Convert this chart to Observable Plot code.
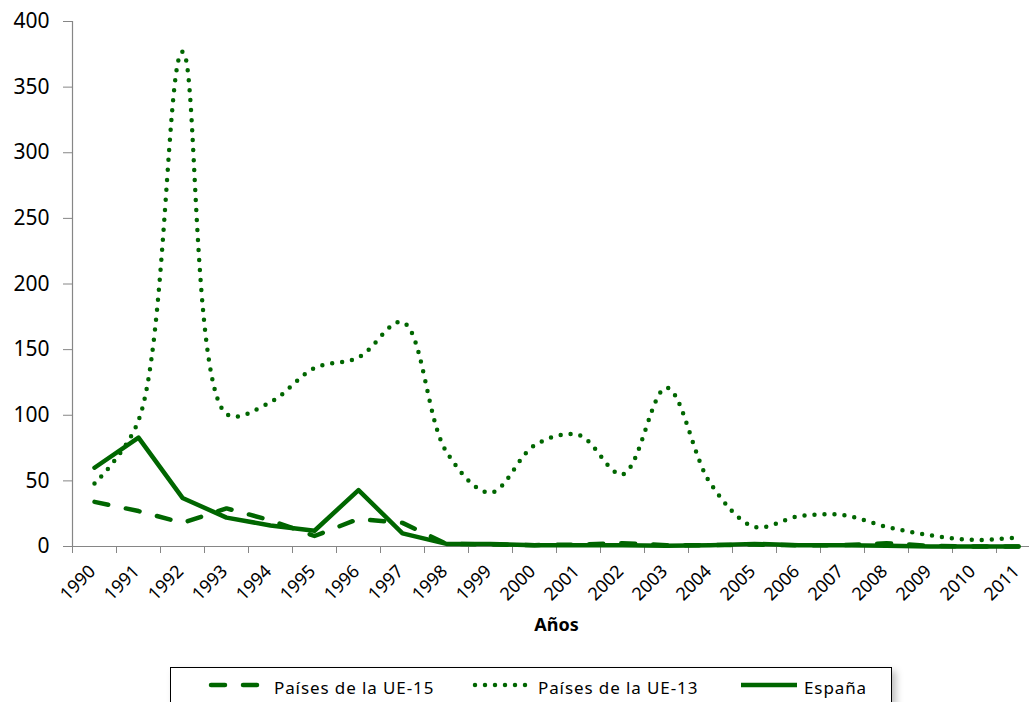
<!DOCTYPE html>
<html>
<head>
<meta charset="utf-8">
<script src="https://cdn.jsdelivr.net/npm/d3@7"></script>
<script src="https://cdn.jsdelivr.net/npm/@observablehq/plot@0.6"></script>
<style>
  html, body { margin: 0; padding: 0; background: #fff; overflow: hidden; }
  #wrap { position: relative; width: 1029px; height: 702px; font-family: "Noto Sans", sans-serif; }
  #legend { position: absolute; left: 170px; top: 667px; width: 720px; height: 50px;
            border: 1px solid #000; background: #fff; box-shadow: 4px 4px 7px rgba(0,0,0,0.25); }
  .li { position: absolute; top: 0; height: 40px; }
  .li svg { position: absolute; top: 0; }
  .li span { position: absolute; top: 8px; font-size: 17px; letter-spacing: 0.9px; color: #000; white-space: nowrap; }
</style>
</head>
<body>
<div id="wrap"></div>
<script>
const years = [1990,1991,1992,1993,1994,1995,1996,1997,1998,1999,2000,2001,2002,2003,2004,2005,2006,2007,2008,2009,2010,2011];
const ue15 = [34, 27, 18, 29, 20, 8, 21, 18, 2, 1.5, 1, 1.5, 2.5, 1, 1, 1.5, 1, 1, 2.5, 0.5, 0, 0];
const ue13 = [48, 96, 377, 101, 110, 136, 144, 171, 72, 41, 77, 85, 55, 121, 48, 15, 23, 24, 15, 8.5, 5, 7];
const espana = [60, 83, 37, 22, 16, 12, 43, 10, 2, 2, 1, 1, 1, 0.5, 1, 2, 1, 1, 0.5, 0, 0, 0];
const yTicks = [0, 50, 100, 150, 200, 250, 300, 350, 400];
const seriesNames = ["Países de la UE-15", "Países de la UE-13", "España"];
const xTitle = "Años";

const green = "#006600";
const rows = (vals) => years.map((yr, i) => ({year: yr, value: vals[i]}));
const boundaries = years.map(y => y - 0.5).concat([years[years.length - 1] + 0.5]);

const chart = Plot.plot({
  width: 1029,
  height: 660,
  marginTop: 21,
  marginBottom: 114,
  marginLeft: 72,
  marginRight: 0,
  x: {type: "linear", domain: [years[0] - 0.5, years[years.length - 1] + 0.5], range: [72, 1040]},
  y: {domain: [0, 400], range: [546, 21]},
  style: {fontFamily: "Noto Sans", background: "white", color: "#000"},
  marks: [
    Plot.axisY(yTicks, {tickSize: 9, tickPadding: 14, fontSize: 21, stroke: "#868686", fill: "#000", tickFormat: d => String(d), label: null}),
    Plot.axisX(boundaries, {tickSize: 7, stroke: "#868686", fill: "none", label: null}),
    Plot.ruleX([years[0] - 0.5], {stroke: "#868686", strokeWidth: 1.2}),
    Plot.ruleY([0], {stroke: "#868686", strokeWidth: 1.2}),
    Plot.text(years, {x: d => d, text: d => String(d), frameAnchor: "bottom", rotate: -45, textAnchor: "end", dx: 2, dy: 26, fontSize: 18, fill: "#000"}),
    Plot.text([xTitle], {x: (years[0] + years[years.length - 1]) / 2, frameAnchor: "bottom", dy: 84, text: d => d, fontSize: 18, fontWeight: "bold", fill: "#000"}),
    Plot.line(rows(ue15), {x: "year", y: "value", stroke: green, strokeWidth: 4.5, strokeDasharray: "14 18", strokeLinecap: "round", strokeLinejoin: "round"}),
    Plot.line(rows(ue13), {x: "year", y: "value", stroke: green, strokeWidth: 4.5, strokeDasharray: "0 10", strokeLinecap: "round", curve: "catmull-rom"}),
    Plot.line(rows(espana), {x: "year", y: "value", stroke: green, strokeWidth: 4.5, strokeLinejoin: "round"})
  ]
});
chart.style.display = "block";
chart.style.position = "absolute";
chart.style.left = "0px";
chart.style.top = "0px";
const wrap = document.getElementById("wrap");
wrap.appendChild(chart);

// Legend
const legend = document.createElement("div");
legend.id = "legend";
const items = [
  {name: seriesNames[0], left: 37, dash: "14 18", cap: "round"},
  {name: seriesNames[1], left: 301, dash: "0 10", cap: "round"},
  {name: seriesNames[2], left: 567, dash: null, cap: "butt"}
];
items.forEach(it => {
  const d = document.createElement("div");
  d.className = "li";
  d.style.left = it.left + "px";
  const ns = "http://www.w3.org/2000/svg";
  const s = document.createElementNS(ns, "svg");
  s.setAttribute("width", 64); s.setAttribute("height", 40);
  const l = document.createElementNS(ns, "line");
  l.setAttribute("x1", 3); l.setAttribute("x2", 59);
  l.setAttribute("y1", 17); l.setAttribute("y2", 17);
  l.setAttribute("stroke", green); l.setAttribute("stroke-width", 4.5);
  l.setAttribute("stroke-linecap", it.cap);
  if (it.dash) l.setAttribute("stroke-dasharray", it.dash);
  s.appendChild(l);
  d.appendChild(s);
  const t = document.createElement("span");
  t.textContent = it.name;
  t.style.left = "66px";
  d.appendChild(t);
  legend.appendChild(d);
});
wrap.appendChild(legend);
</script>
</body>
</html>
